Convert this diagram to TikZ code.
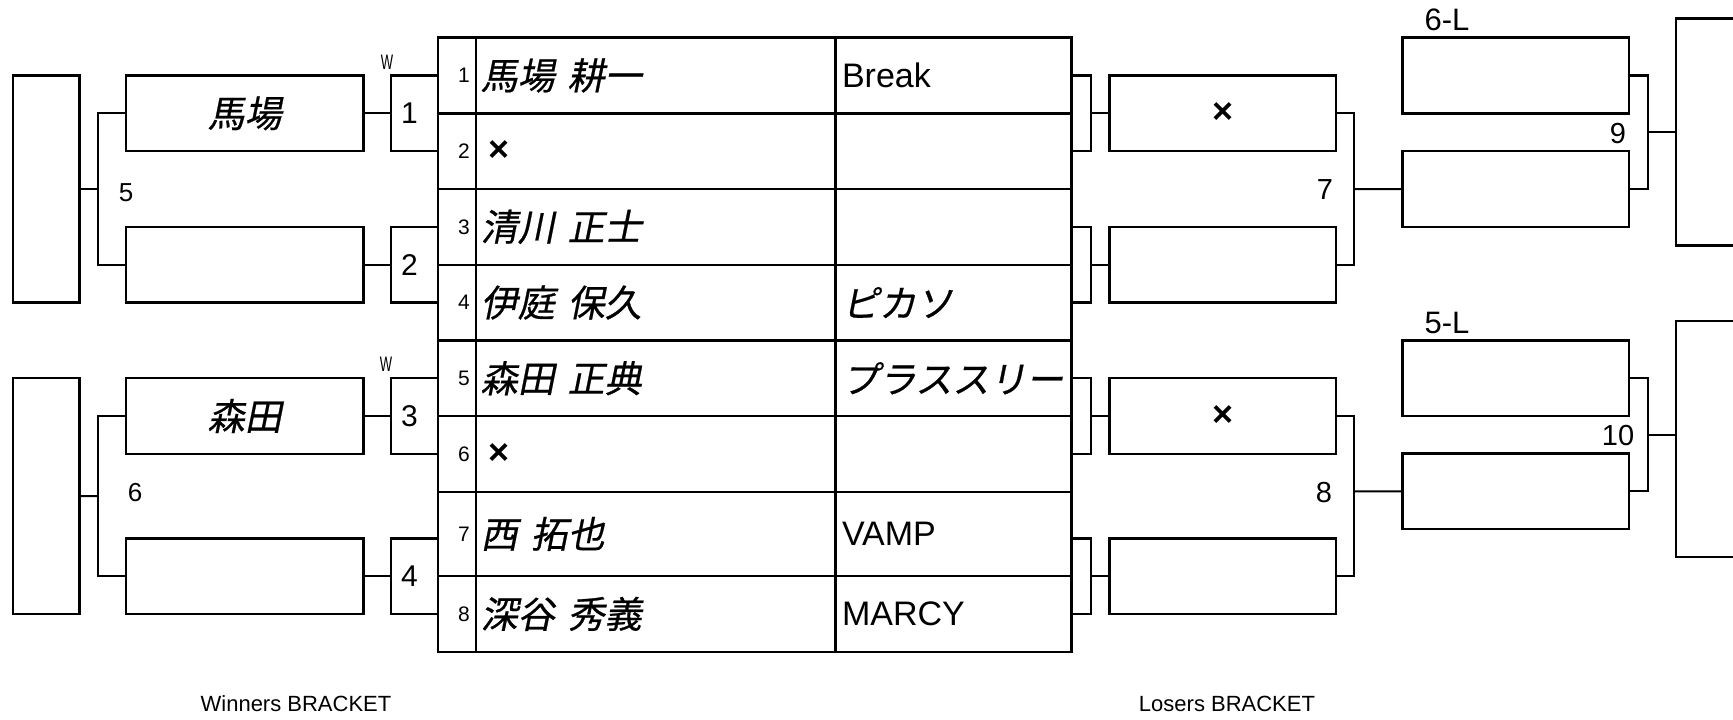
\documentclass[tikz,border=0pt]{standalone}
\usepackage{fontspec}
\setmainfont{Liberation Sans}
\newfontfamily\jpi{Noto Sans CJK JP}[FakeSlant=0.2,FakeBold=0.6]
\newcommand\trow[6]{%
  \node[numcell, minimum height=#3pt] (num#1) at (437.7,#2) {#4};
  \node[namcell, minimum height=#3pt] (nam#1) at (475.7,#2) {#5};
  \node[temcell, minimum height=#3pt] (tem#1) at (835.5,#2) {#6};}
\newcommand\jn[2]{{\jpi #1\hspace{0.35em}#2}}
\newcommand\xm{{\bfseries\fontsize{36}{40}\selectfont ×}}
\begin{document}
\begin{tikzpicture}[x=1pt,y=-1pt,
  box/.style={draw, line width=2.4pt, rectangle, inner sep=0pt, outer sep=0pt,
    anchor=north west, minimum height=75.7pt},
  conn/.style={line width=2.1pt},
  cellbase/.style={draw, line width=2.4pt, rectangle, inner ysep=0pt, outer sep=0pt,
    anchor=north west},
  numcell/.style={cellbase, inner xsep=6pt, text width=26pt, align=right,
    font=\fontsize{21}{24}\selectfont},
  namcell/.style={cellbase, inner xsep=5pt, text width=349.8pt, align=left,
    font=\fontsize{37}{42}\selectfont},
  temcell/.style={cellbase, inner xsep=6.5pt, text width=223pt, align=left,
    font=\fontsize{34}{40}\selectfont},
  lbl/.style={inner sep=0pt, outer sep=0pt},
  big/.style={lbl, font=\fontsize{30}{34}\selectfont},
  mid/.style={lbl, font=\fontsize{29}{33}\selectfont},
  sml/.style={lbl, font=\fontsize{21}{24}\selectfont}]
\useasboundingbox (0,0) rectangle (1733,720);
\clip (0,0) rectangle (1733,720);

% ---- table ----
\trow{1}{37.6}{75.7}{1}{\jn{馬場}{耕一}}{Break}
\trow{2}{113.3}{75.7}{2}{\hspace*{8pt}\xm}{}
\trow{3}{189}{75.7}{3}{\jn{清川}{正士}}{}
\trow{4}{264.7}{75.7}{4}{\jn{伊庭}{保久}}{{\fontsize{37}{42}\selectfont\jpi ピカソ}}
\trow{5}{340.4}{75.7}{5}{\jn{森田}{正典}}{{\fontsize{37}{42}\selectfont\jpi プラススリー}}
\trow{6}{416.1}{75.7}{6}{\hspace*{8pt}\xm}{}
\trow{7}{491.8}{84.2}{7}{\jn{西}{拓也}}{VAMP}
\trow{8}{576}{75.7}{8}{\jn{深谷}{秀義}}{MARCY}

% ---- winners bracket ----
\node[box, minimum width=66.6pt, minimum height=227.1pt] (BU) at (12.7,75.5) {};
\node[box, minimum width=66.6pt, minimum height=235.8pt] (BL) at (12.7,378.2) {};
\node[box, minimum width=237.3pt, font=\fontsize{37}{42}\selectfont\jpi] (W1) at (126,75.5) {馬場};
\node[box, minimum width=237.3pt] (W2) at (126,226.9) {};
\node[box, minimum width=237.3pt, font=\fontsize{37}{42}\selectfont\jpi] (W3) at (126,378.2) {森田};
\node[box, minimum width=237.3pt] (W4) at (126,538.3) {};
\node[box, minimum width=47pt] (S1) at (390.7,75.5) {};
\node[box, minimum width=47pt] (S2) at (390.7,226.9) {};
\node[box, minimum width=47pt] (S3) at (390.7,378.2) {};
\node[box, minimum width=47pt] (S4) at (390.7,538.3) {};
\node[big] (s1t) at (409.5,113.4) {1};
\node[big] (s2t) at (409.5,264.8) {2};
\node[big] (s3t) at (409.5,416.1) {3};
\node[big] (s4t) at (409.5,576.2) {4};
\node[sml] (wA) at (387,62.5) {\scalebox{0.62}[1]{W}};
\node[sml] (wB) at (386,364) {\scalebox{0.62}[1]{W}};
\draw[conn] (W1.east) -- (S1.west);
\draw[conn] (W2.east) -- (S2.west);
\draw[conn] (W3.east) -- (S3.west);
\draw[conn] (W4.east) -- (S4.west);
\coordinate (j5) at (98.3,189.05);
\coordinate (j6) at (98.3,496.1);
\draw[conn] (W1.west) -| (j5) |- (W2.west);
\draw[conn] (BU.east) -- (j5);
\draw[conn] (W3.west) -| (j6) |- (W4.west);
\draw[conn] (BL.east) -- (j6);
\node[lbl, font=\fontsize{26}{30}\selectfont] (t5) at (126,193) {5};
\node[lbl, font=\fontsize{26}{30}\selectfont] (t6) at (135,493) {6};

% ---- losers bracket ----
\node[box, minimum width=19pt] (R1) at (1071.7,75.5) {};
\node[box, minimum width=19pt] (R2) at (1071.7,226.9) {};
\node[box, minimum width=19pt] (R3) at (1071.7,378.2) {};
\node[box, minimum width=19pt] (R4) at (1071.7,538.3) {};
\node[box, minimum width=226.7pt] (L1) at (1109.3,75.5) {\xm};
\node[box, minimum width=226.7pt] (L2) at (1109.3,226.9) {};
\node[box, minimum width=226.7pt] (L3) at (1109.3,378.2) {\xm};
\node[box, minimum width=226.7pt] (L4) at (1109.3,538.3) {};
\draw[conn] (R1.east) -- (L1.west);
\draw[conn] (R2.east) -- (L2.west);
\draw[conn] (R3.east) -- (L3.west);
\draw[conn] (R4.east) -- (L4.west);
\node[box, minimum width=226.7pt] (M1) at (1402.3,37.6) {};
\node[box, minimum width=226.7pt] (M2) at (1402.3,151.2) {};
\node[box, minimum width=226.7pt] (M3) at (1402.3,340.4) {};
\node[box, minimum width=226.7pt] (M4) at (1402.3,453.5) {};
\coordinate (j7) at (1354.3,189.05);
\coordinate (j8) at (1354.3,491.35);
\draw[conn] (L1.east) -| (j7) |- (L2.east);
\draw[conn] (j7) -- (M2.west);
\draw[conn] (L3.east) -| (j8) |- (L4.east);
\draw[conn] (j8) -- (M4.west);
\node[box, minimum width=150pt, minimum height=227pt] (F9) at (1676,18.5) {};
\node[box, minimum width=150pt, minimum height=236pt] (F10) at (1676,321) {};
\coordinate (j9) at (1647.7,132.25);
\coordinate (j10) at (1647.7,434.8);
\draw[conn] (M1.east) -| (j9) |- (M2.east);
\draw[conn] (j9) -- (j9 -| F9.west);
\draw[conn] (M3.east) -| (j10) |- (M4.east);
\draw[conn] (j10) -- (j10 -| F10.west);
\node[mid] (t7) at (1325,190) {7};
\node[mid] (t8) at (1324,493) {8};
\node[mid] (t9) at (1618,134) {9};
\node[mid] (t10) at (1618,436) {10};
\node[lbl, font=\fontsize{31}{35}\selectfont] (t6L) at (1447,20) {6-L};
\node[lbl, font=\fontsize{31}{35}\selectfont] (t5L) at (1447,322.5) {5-L};

% ---- captions ----
\node[lbl, font=\fontsize{22}{26}\selectfont] (cw) at (296,704) {Winners BRACKET};
\node[lbl, font=\fontsize{22}{26}\selectfont] (cl) at (1227,704) {Losers BRACKET};
\end{tikzpicture}
\end{document}
